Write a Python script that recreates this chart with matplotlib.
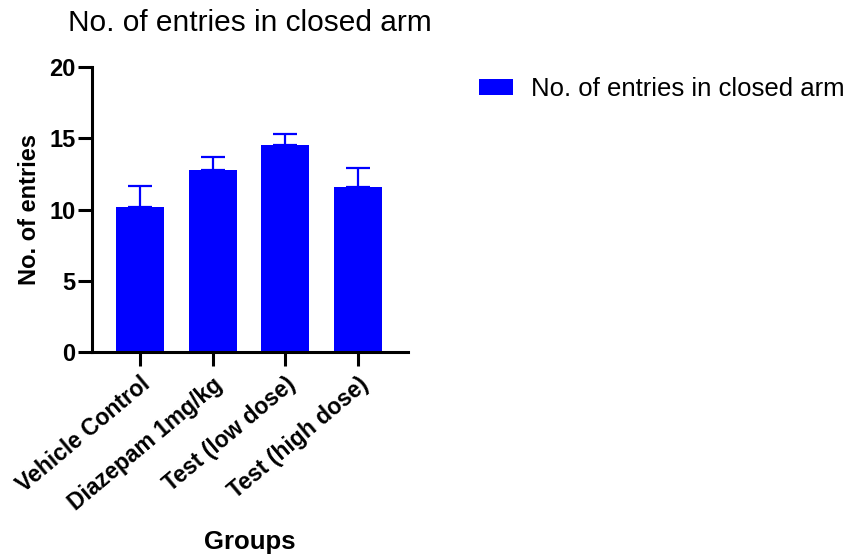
import matplotlib
matplotlib.use("Agg")
import matplotlib.pyplot as plt

plt.rcParams['font.family'] = ['Liberation Sans', 'DejaVu Sans']

groups = ["Vehicle Control", "Diazepam 1mg/kg", "Test (low dose)", "Test (high dose)"]
entries = [10.17, 12.75, 14.5, 11.58]
sem = [1.45, 0.95, 0.83, 1.3]
series_name = "No. of entries in closed arm"

fig = plt.figure(figsize=(8.5, 5.54), dpi=100)
ax = fig.add_axes([0.1082, 0.3646, 0.3718, 0.5144])

x = list(range(len(groups)))
ax.bar(x, entries, width=0.66, color="#0000FF", label=series_name, zorder=2)
ax.errorbar(x, entries, yerr=[[0] * len(sem), sem], fmt="none", ecolor="#0000FF",
            elinewidth=1.6, capsize=8.5, capthick=1.6, zorder=1)

ax.set_xlim(-0.66, 3.69)
ax.set_ylim(0, 20)
ax.set_yticks([0, 5, 10, 15, 20])
ax.set_xticks(x)
ax.set_xticklabels(groups, rotation=40, ha="right", va="top", rotation_mode="anchor",
                   fontsize=16.5, fontweight="bold")
for lbl in ax.get_yticklabels():
    lbl.set_fontsize(17)
    lbl.set_fontweight("bold")

for side in ["top", "right"]:
    ax.spines[side].set_visible(False)
for side in ["left", "bottom"]:
    ax.spines[side].set_linewidth(2.2)
ax.tick_params(axis="both", width=2.2, length=10, color="black")
ax.tick_params(axis="y", pad=2)
ax.tick_params(axis="x", pad=5)

ax.set_ylabel("No. of entries", fontsize=17, fontweight="bold", labelpad=6)
ax.set_xlabel("Groups", fontsize=18.5, fontweight="bold", va="center")
ax.xaxis.set_label_coords(0.5, -0.665)

fig.text(0.08, 0.983, "No. of entries in closed arm", fontsize=21.5, ha="left", va="top")

ax.legend(loc="upper left", bbox_to_anchor=(1.15, 1.047), frameon=False, fontsize=18.5,
          handlelength=1.35, handleheight=0.6, handletextpad=0.7)

fig.savefig("out.png", dpi=100)
